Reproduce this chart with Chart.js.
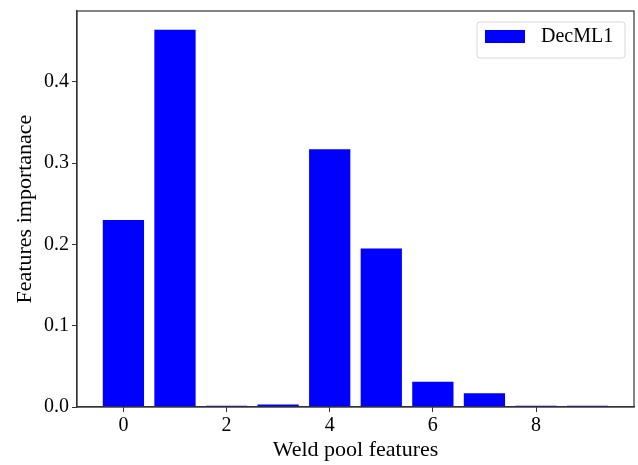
<!DOCTYPE html>
<html>
<head>
<meta charset="utf-8">
<script src="https://cdn.jsdelivr.net/npm/chart.js@4/dist/chart.umd.min.js"></script>
<style>
  html, body { margin: 0; padding: 0; background: #fff; }
  #wrap { width: 638px; height: 465px; }
</style>
</head>
<body>
<div id="wrap"><canvas id="myChart" width="638" height="465"></canvas></div>
<script>
// feature index and importance values
var features = [0, 1, 2, 3, 4, 5, 6, 7, 8, 9];
var importance = [0.230, 0.464, 0.0015, 0.003, 0.317, 0.195, 0.031, 0.017, 0.0015, 0.0015];
var xTicks = [0, 2, 4, 6, 8];
var yTicks = [0.0, 0.1, 0.2, 0.3, 0.4];
var seriesName = 'DecML1';

var serif = "'Liberation Serif', 'DejaVu Serif', serif";

var points = [];
for (let i = 0; i < features.length; i++) {
    points.push({ x: features[i], y: importance[i] });
}

// frame round the plot + legend box in the upper right
var framePlugin = {
    id: 'frame',
    afterDraw: function(chart) {
        var ctx = chart.ctx;
        var a = chart.chartArea;
        ctx.save();
        ctx.strokeStyle = '#333';
        ctx.lineWidth = 1.2;
        ctx.strokeRect(a.left, a.top, a.right - a.left, a.bottom - a.top);

        var ds = chart.data.datasets[0];
        var bx = a.right - 157, by = a.top + 11, bw = 148, bh = 36;
        ctx.fillStyle = 'rgba(255,255,255,0.8)';
        ctx.strokeStyle = '#d8d8d8';
        ctx.lineWidth = 1;
        ctx.beginPath();
        ctx.roundRect(bx, by, bw, bh, 3);
        ctx.fill();
        ctx.stroke();
        ctx.fillStyle = ds.backgroundColor;
        ctx.fillRect(bx + 8, by + 8, 40, 13);
        ctx.fillStyle = '#000';
        ctx.font = '20px ' + serif;
        ctx.textBaseline = 'middle';
        ctx.fillText(ds.label, bx + 64, by + 15);
        ctx.restore();
    }
};

const ctx = document.getElementById('myChart').getContext('2d');
var myChart = new Chart(ctx, {
    type: 'bar',
    data: {
        datasets: [{
            label: seriesName,
            data: points,
            backgroundColor: '#0000ff',
            borderWidth: 0,
            barPercentage: 1.0,
            categoryPercentage: 0.8
        }]
    },
    options: {
        responsive: false,
        animation: false,
        layout: { padding: { top: 11, right: 4, left: 0, bottom: 0 } },
        plugins: {
            legend: { display: false },
            tooltip: { enabled: false }
        },
        scales: {
            x: {
                type: 'linear',
                min: -0.9,
                max: 9.9,
                offset: false,
                afterBuildTicks: function(axis) {
                    axis.ticks = xTicks.map(function(v) { return { value: v }; });
                },
                afterFit: function(axis) { axis.height = 58; },
                grid: { offset: false, drawOnChartArea: false, drawTicks: true, tickLength: 5, color: '#333' },
                border: { display: true, color: '#333', width: 1.2 },
                ticks: { color: '#000', font: { family: serif, size: 20 }, padding: 2 },
                title: {
                    display: true,
                    text: 'Weld pool features',
                    color: '#000',
                    font: { family: serif, size: 22 },
                    padding: { top: 0, bottom: 2 }
                }
            },
            y: {
                min: 0,
                max: 0.487,
                afterBuildTicks: function(axis) {
                    axis.ticks = yTicks.map(function(v) { return { value: v }; });
                },
                afterFit: function(axis) {
                    axis.width = 77;
                    axis.paddingTop = 0;
                    axis.paddingBottom = 0;
                },
                grid: { offset: false, drawOnChartArea: false, drawTicks: true, tickLength: 5, color: '#333' },
                border: { display: true, color: '#333', width: 1.2 },
                ticks: {
                    color: '#000',
                    font: { family: serif, size: 20 },
                    padding: 3,
                    callback: function(v) { return Number(v).toFixed(1); }
                },
                title: {
                    display: true,
                    text: 'Features importanace',
                    color: '#000',
                    font: { family: serif, size: 22 },
                    padding: { top: 12, bottom: 0 }
                }
            }
        }
    },
    plugins: [framePlugin]
});
</script>
</body>
</html>
